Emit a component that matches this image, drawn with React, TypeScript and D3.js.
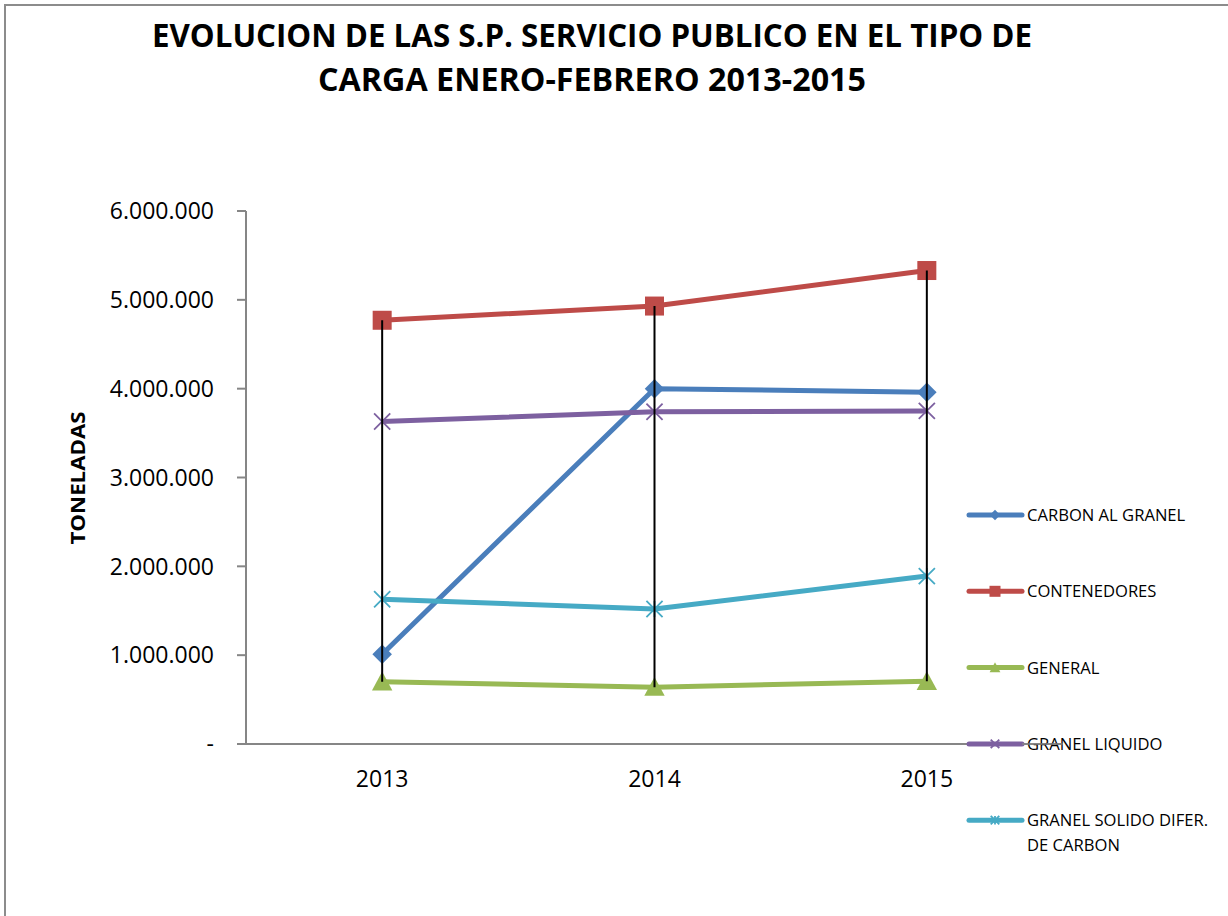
import React from "react";
import * as d3 from "d3";

const titleLines = ["EVOLUCION DE LAS S.P. SERVICIO PUBLICO EN EL TIPO DE", "CARGA ENERO-FEBRERO 2013-2015"];
const yAxisTitle = "TONELADAS";
const categories = ["2013", "2014", "2015"];
const yTicks = [0, 1000000, 2000000, 3000000, 4000000, 5000000, 6000000];

const carbon = [1010000, 4000000, 3960000];
const contenedores = [4770000, 4930000, 5330000];
const general = [700000, 640000, 705000];
const granelLiquido = [3630000, 3740000, 3750000];
const granelSolido = [1630000, 1520000, 1890000];

const seriesNames = ["CARBON AL GRANEL", "CONTENEDORES", "GENERAL", "GRANEL LIQUIDO", "GRANEL SOLIDO DIFER.|DE CARBON"];
const seriesColors = ["#4A7EBB", "#BE4B48", "#98B954", "#7D60A0", "#46AAC5"];
const seriesMarkers = ["diamond", "square", "triangle", "x", "star"];
const seriesValues = [carbon, contenedores, general, granelLiquido, granelSolido];

const FONT = "'Open Sans', 'Noto Sans', sans-serif";

function fmt(v: number) {
  if (v === 0) return "-";
  return d3.format(",")(v).replace(/,/g, ".");
}

function Marker({ type, x, y, color, s }: { type: string; x: number; y: number; color: string; s: number }) {
  const h = s / 2;
  if (type === "square") return <rect x={x - h} y={y - h} width={s} height={s} fill={color} />;
  if (type === "diamond") {
    const r = h * 1.15;
    return <path d={`M${x},${y - r}L${x + r},${y}L${x},${y + r}L${x - r},${y}Z`} fill={color} />;
  }
  if (type === "triangle") {
    const r = h * 1.2;
    return <path d={`M${x},${y - r}L${x + r},${y + r * 0.85}L${x - r},${y + r * 0.85}Z`} fill={color} />;
  }
  if (type === "x") {
    const r = h * 0.95;
    return (
      <path d={`M${x - r},${y - r}L${x + r},${y + r}M${x - r},${y + r}L${x + r},${y - r}`} stroke={color} strokeWidth={1.8} fill="none" />
    );
  }
  const r = h * 0.95;
  return (
    <path
      d={`M${x - r},${y - r}L${x + r},${y + r}M${x - r},${y + r}L${x + r},${y - r}M${x},${y - r}L${x},${y + r}`}
      stroke={color}
      strokeWidth={1.8}
      fill="none"
    />
  );
}

export default function App() {
  const W = 1228, H = 916;
  const left = 246, right = 1063, top = 211, bottom = 744;
  const x = d3.scaleBand<string>().domain(categories).range([left, right]);
  const y = d3.scaleLinear().domain([0, 6000000]).range([bottom, top]);
  const cx = (c: string) => (x(c) as number) + x.bandwidth() / 2;

  const line = d3
    .line<number>()
    .x((_, i) => cx(categories[i]))
    .y((d) => y(d));

  const legendY0 = 515, legendStep = 76.3;

  return (
    <svg width={W} height={H} style={{ position: "absolute", left: 0, top: 0, background: "#fff" }} fontFamily={FONT}>
      <rect x={0} y={0} width={W} height={H} fill="#fff" />
      <rect x={5} y={5} width={W + 20} height={H + 20} fill="none" stroke="#8c8c8c" strokeWidth={2} />
      {titleLines.map((t, i) => (
        <text
          key={i}
          x={592}
          y={i === 0 ? 47 : 91}
          textAnchor="middle"
          fontWeight="bold"
          fontSize={33}
          textLength={i === 0 ? 880 : 548}
          lengthAdjust="spacingAndGlyphs"
          fill="#000"
        >
          {t}
        </text>
      ))}
      {/* y axis */}
      <line x1={left} x2={left} y1={top} y2={bottom} stroke="#868686" strokeWidth={2} />
      {yTicks.map((t) => (
        <g key={t}>
          <line x1={left - 9} x2={left} y1={y(t)} y2={y(t)} stroke="#868686" strokeWidth={2} />
          <text x={214} y={y(t)} dy="0.36em" textAnchor="end" fontSize={23} fill="#000">
            {fmt(t)}
          </text>
        </g>
      ))}
      <line x1={left} x2={right} y1={bottom} y2={bottom} stroke="#868686" strokeWidth={2} />
      {categories.map((c) => (
        <text key={c} x={cx(c)} y={779} dy="0.36em" textAnchor="middle" fontSize={23} fill="#000">
          {c}
        </text>
      ))}
      <text
        transform={`translate(85,478) rotate(-90)`}
        textAnchor="middle"
        fontWeight="bold"
        fontSize={20}
        textLength={133}
        lengthAdjust="spacingAndGlyphs"
        fill="#000"
      >
        {yAxisTitle}
      </text>
      {/* series lines */}
      {seriesValues.map((vals, si) => (
        <path key={si} d={line(vals) || ""} fill="none" stroke={seriesColors[si]} strokeWidth={5} strokeLinejoin="round" />
      ))}
      {seriesValues.map((vals, si) =>
        vals.map((v, i) => (
          <Marker key={si + "-" + i} type={seriesMarkers[si]} x={cx(categories[i])} y={y(v)} color={seriesColors[si]} s={si === 1 ? 19 : 17} />
        ))
      )}
      {/* high-low lines */}
      {categories.map((c, i) => {
        const vals = seriesValues.map((s) => s[i]);
        return (
          <line key={c} x1={cx(c)} x2={cx(c)} y1={y(d3.max(vals) as number)} y2={y(d3.min(vals) as number)} stroke="#000" strokeWidth={2} />
        );
      })}
      {/* legend */}
      {seriesNames.map((n, i) => {
        const ly = legendY0 + i * legendStep;
        const lines = n.split("|");
        return (
          <g key={n}>
            <line x1={969} x2={1022} y1={ly} y2={ly} stroke={seriesColors[i]} strokeWidth={5} strokeLinecap="round" />
            <Marker type={seriesMarkers[i]} x={995} y={ly} color={seriesColors[i]} s={i === 1 ? 11 : 9} />
            {lines.map((l, j) => (
              <text key={j} x={1027} y={ly + j * 25} dy="0.36em" fontSize={16.6} fill="#000">
                {l}
              </text>
            ))}
          </g>
        );
      })}
      {/* x axis line overlapping legend at right end */}
      <line x1={1022} x2={right} y1={bottom} y2={bottom} stroke="#868686" strokeWidth={1.5} />
    </svg>
  );
}
